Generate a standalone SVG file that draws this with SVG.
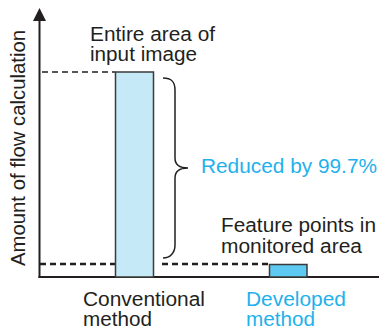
<svg xmlns="http://www.w3.org/2000/svg" width="379" height="329" viewBox="0 0 379 329">
<style>
text{font-family:"Liberation Sans",Arial,sans-serif;font-size:20px;fill:#231f20}
.blue{fill:#1fb1ec}
.axis{stroke:#231f20;stroke-width:2;fill:none}
.dash{stroke:#231f20;fill:none;stroke-dasharray:6 4}
</style>
<rect width="379" height="329" fill="#fff"/>
<g id="connectors">
<line class="dash" x1="42" y1="72" x2="115" y2="72" stroke-width="1.6"/>
<line class="dash" x1="40" y1="264" x2="115" y2="264" stroke-width="2.4"/>
<line class="dash" x1="162" y1="264" x2="269" y2="264" stroke-width="2.4"/>
<path d="M163,78 C172,78 175,82 175,90 L175,158 C175,165 180,168 188,168 C180,168 175,171 175,178 L175,245 C175,253 170,258 163,258" fill="none" stroke="#231f20" stroke-width="1.5"/>
</g>
<g id="axes">
<line class="axis" x1="39.5" y1="18" x2="39.5" y2="278"/>
<polygon points="39.5,8 33,21 46,21" fill="#231f20"/>
<line class="axis" x1="38.5" y1="277" x2="379" y2="277"/>
<text transform="translate(25,266) rotate(-90)" textLength="236" lengthAdjust="spacingAndGlyphs">Amount of flow calculation</text>
</g>
<g id="conventional">
<rect x="115.5" y="72" width="38" height="205" fill="#c6e9f8" stroke="#3a3a3a" stroke-width="1.5"/>
<text x="90" y="41" textLength="125" lengthAdjust="spacingAndGlyphs">Entire area of</text>
<text x="90" y="61" textLength="107" lengthAdjust="spacingAndGlyphs">input image</text>
<text x="83" y="305.5" textLength="122" lengthAdjust="spacingAndGlyphs">Conventional</text>
<text x="83" y="326" textLength="69" lengthAdjust="spacingAndGlyphs">method</text>
</g>
<g id="developed">
<rect x="269.5" y="264.5" width="37.5" height="12.5" fill="#5ec9f1" stroke="#3a3a3a" stroke-width="1.5"/>
<text x="221" y="231.5" textLength="155" lengthAdjust="spacingAndGlyphs">Feature points in</text>
<text x="221" y="252.5" textLength="141" lengthAdjust="spacingAndGlyphs">monitored area</text>
<text class="blue" x="246" y="305.5" textLength="100" lengthAdjust="spacingAndGlyphs">Developed</text>
<text class="blue" x="246" y="326" textLength="69" lengthAdjust="spacingAndGlyphs">method</text>
</g>
<g id="reduction">
<text class="blue" x="201" y="173" textLength="176" lengthAdjust="spacingAndGlyphs">Reduced by 99.7%</text>
</g>
</svg>
